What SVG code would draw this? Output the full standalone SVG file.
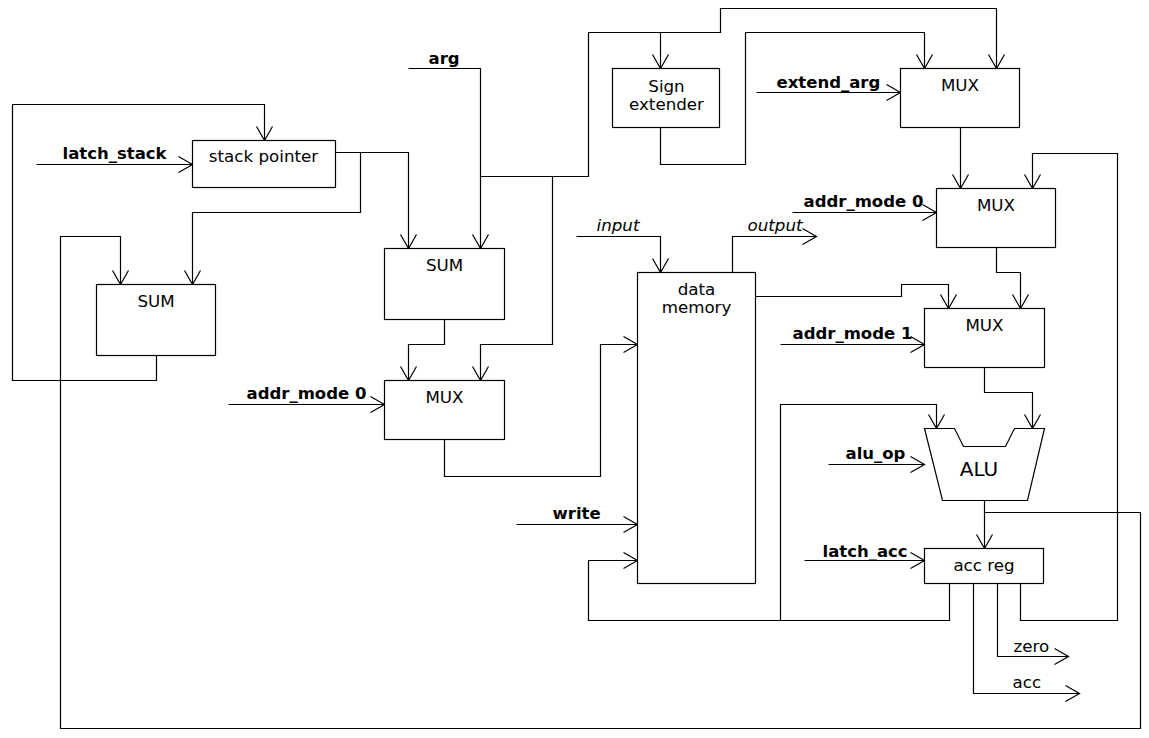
<svg xmlns="http://www.w3.org/2000/svg" width="1149" height="738" viewBox="0 0 1149 738">
<style>
.box{fill:#fff;stroke:#000;stroke-width:1.2}
.w{fill:none;stroke:#000;stroke-width:1.2}
.a{marker-end:url(#arr)}
text{font-family:"DejaVu Sans","Liberation Sans",sans-serif;font-size:16.7px;fill:#000}
.c{text-anchor:middle}
.b{font-weight:bold;font-size:16.5px}
.i{font-style:italic}
</style>
<defs>
<marker id="arr" markerUnits="userSpaceOnUse" markerWidth="20" markerHeight="20" refX="14" refY="8" orient="auto" overflow="visible">
<path d="M0,0 L14,8 L0,16" fill="none" stroke="#000" stroke-width="1.2"/>
</marker>
</defs>
<rect width="1149" height="738" fill="#fff"/>
<g transform="translate(0.5,0.5)">
<g id="connectors">
<path class="w a" d="M36,164 H192"/>
<path class="w a" d="M156,355 V380 H12 V104 H264 V140"/>
<path class="w a" d="M335,152 H408 V248"/>
<path class="w a" d="M360,152 V212 H192 V284"/>
<path class="w a" d="M984,512 H1140 V728 H60 V236 H120 V284"/>
<path class="w a" d="M408,68 H480 V248"/>
<path class="w a" d="M480,176 H588 V32 H720 V8 H996 V68"/>
<path class="w a" d="M660,32 V68"/>
<path class="w a" d="M552,176 V344 H480 V380"/>
<path class="w a" d="M660,127 V164 H745 V32 H924 V68"/>
<path class="w a" d="M756,92 H900"/>
<path class="w a" d="M960,127 V188"/>
<path class="w a" d="M792,212 H936"/>
<path class="w a" d="M1020,583 V620 H1117 V153 H1032 V188"/>
<path class="w a" d="M996,247 V272 H1020 V308"/>
<path class="w a" d="M755,296 H901 V284 H948 V308"/>
<path class="w a" d="M780,344 H924"/>
<path class="w a" d="M984,367 V392 H1032 V428"/>
<path class="w a" d="M949,583 V620 H588 V560 H637"/>
<path class="w a" d="M780,620 V404 H936 V428"/>
<path class="w a" d="M828,464 H924"/>
<path class="w a" d="M984,500 V548"/>
<path class="w a" d="M804,560 H924"/>
<path class="w a" d="M997,583 V656 H1068"/>
<path class="w a" d="M973,583 V693 H1079"/>
<path class="w a" d="M576,236 H660 V272"/>
<path class="w a" d="M732,272 V236 H816"/>
<path class="w a" d="M444,319 V344 H408 V380"/>
<path class="w a" d="M228,404 H384"/>
<path class="w a" d="M444,439 V476 H600 V344 H637"/>
<path class="w a" d="M516,524 H637"/>
</g>
<g id="labels">
<text class="b" x="62" y="158">latch_stack</text>
<text class="b" x="428" y="63">arg</text>
<text class="b" x="776" y="87">extend_arg</text>
<text class="b" x="803" y="206">addr_mode 0</text>
<text class="i" x="596" y="230">input</text>
<text class="i" x="747" y="230">output</text>
<text class="b" x="792" y="338">addr_mode 1</text>
<text class="b" x="246" y="398">addr_mode 0</text>
<text class="b" x="845" y="458">alu_op</text>
<text class="b" x="552" y="518">write</text>
<text class="b" x="822" y="556">latch_acc</text>
<text x="1013" y="651">zero</text>
<text x="1012" y="687">acc</text>
</g>
<g id="stack_pointer"><rect class="box" x="192" y="140" width="143" height="47"/><text class="c" x="263" y="161">stack pointer</text></g>
<g id="sum1"><rect class="box" x="96" y="284" width="119" height="71"/><text class="c" x="155.5" y="306">SUM</text></g>
<g id="sum2"><rect class="box" x="384" y="248" width="120" height="71"/><text class="c" x="444" y="270">SUM</text></g>
<g id="mux_addr"><rect class="box" x="384" y="380" width="120" height="59"/><text class="c" x="444" y="402">MUX</text></g>
<g id="sign_extender"><rect class="box" x="612" y="68" width="107" height="59"/><text class="c" x="666" y="91">Sign</text><text class="c" x="666" y="109">extender</text></g>
<g id="data_memory"><rect class="box" x="637" y="272" width="118" height="311"/><text class="c" x="696" y="294">data</text><text class="c" x="696" y="312">memory</text></g>
<g id="mux_arg"><rect class="box" x="900" y="68" width="119" height="59"/><text class="c" x="959.5" y="90">MUX</text></g>
<g id="mux_a"><rect class="box" x="936" y="188" width="119" height="59"/><text class="c" x="995.5" y="210">MUX</text></g>
<g id="mux_b"><rect class="box" x="924" y="308" width="120" height="59"/><text class="c" x="984" y="330">MUX</text></g>
<g id="alu"><polygon class="box" points="924,428 954,428 963,446 1005,446 1014,428 1044,428 1027,500 942,500"/><text class="c" x="978.5" y="475" style="font-size:20px">ALU</text></g>
<g id="acc_reg"><rect class="box" x="924" y="548" width="119" height="35"/><text class="c" x="983.5" y="570">acc reg</text></g>
</g>
</svg>
